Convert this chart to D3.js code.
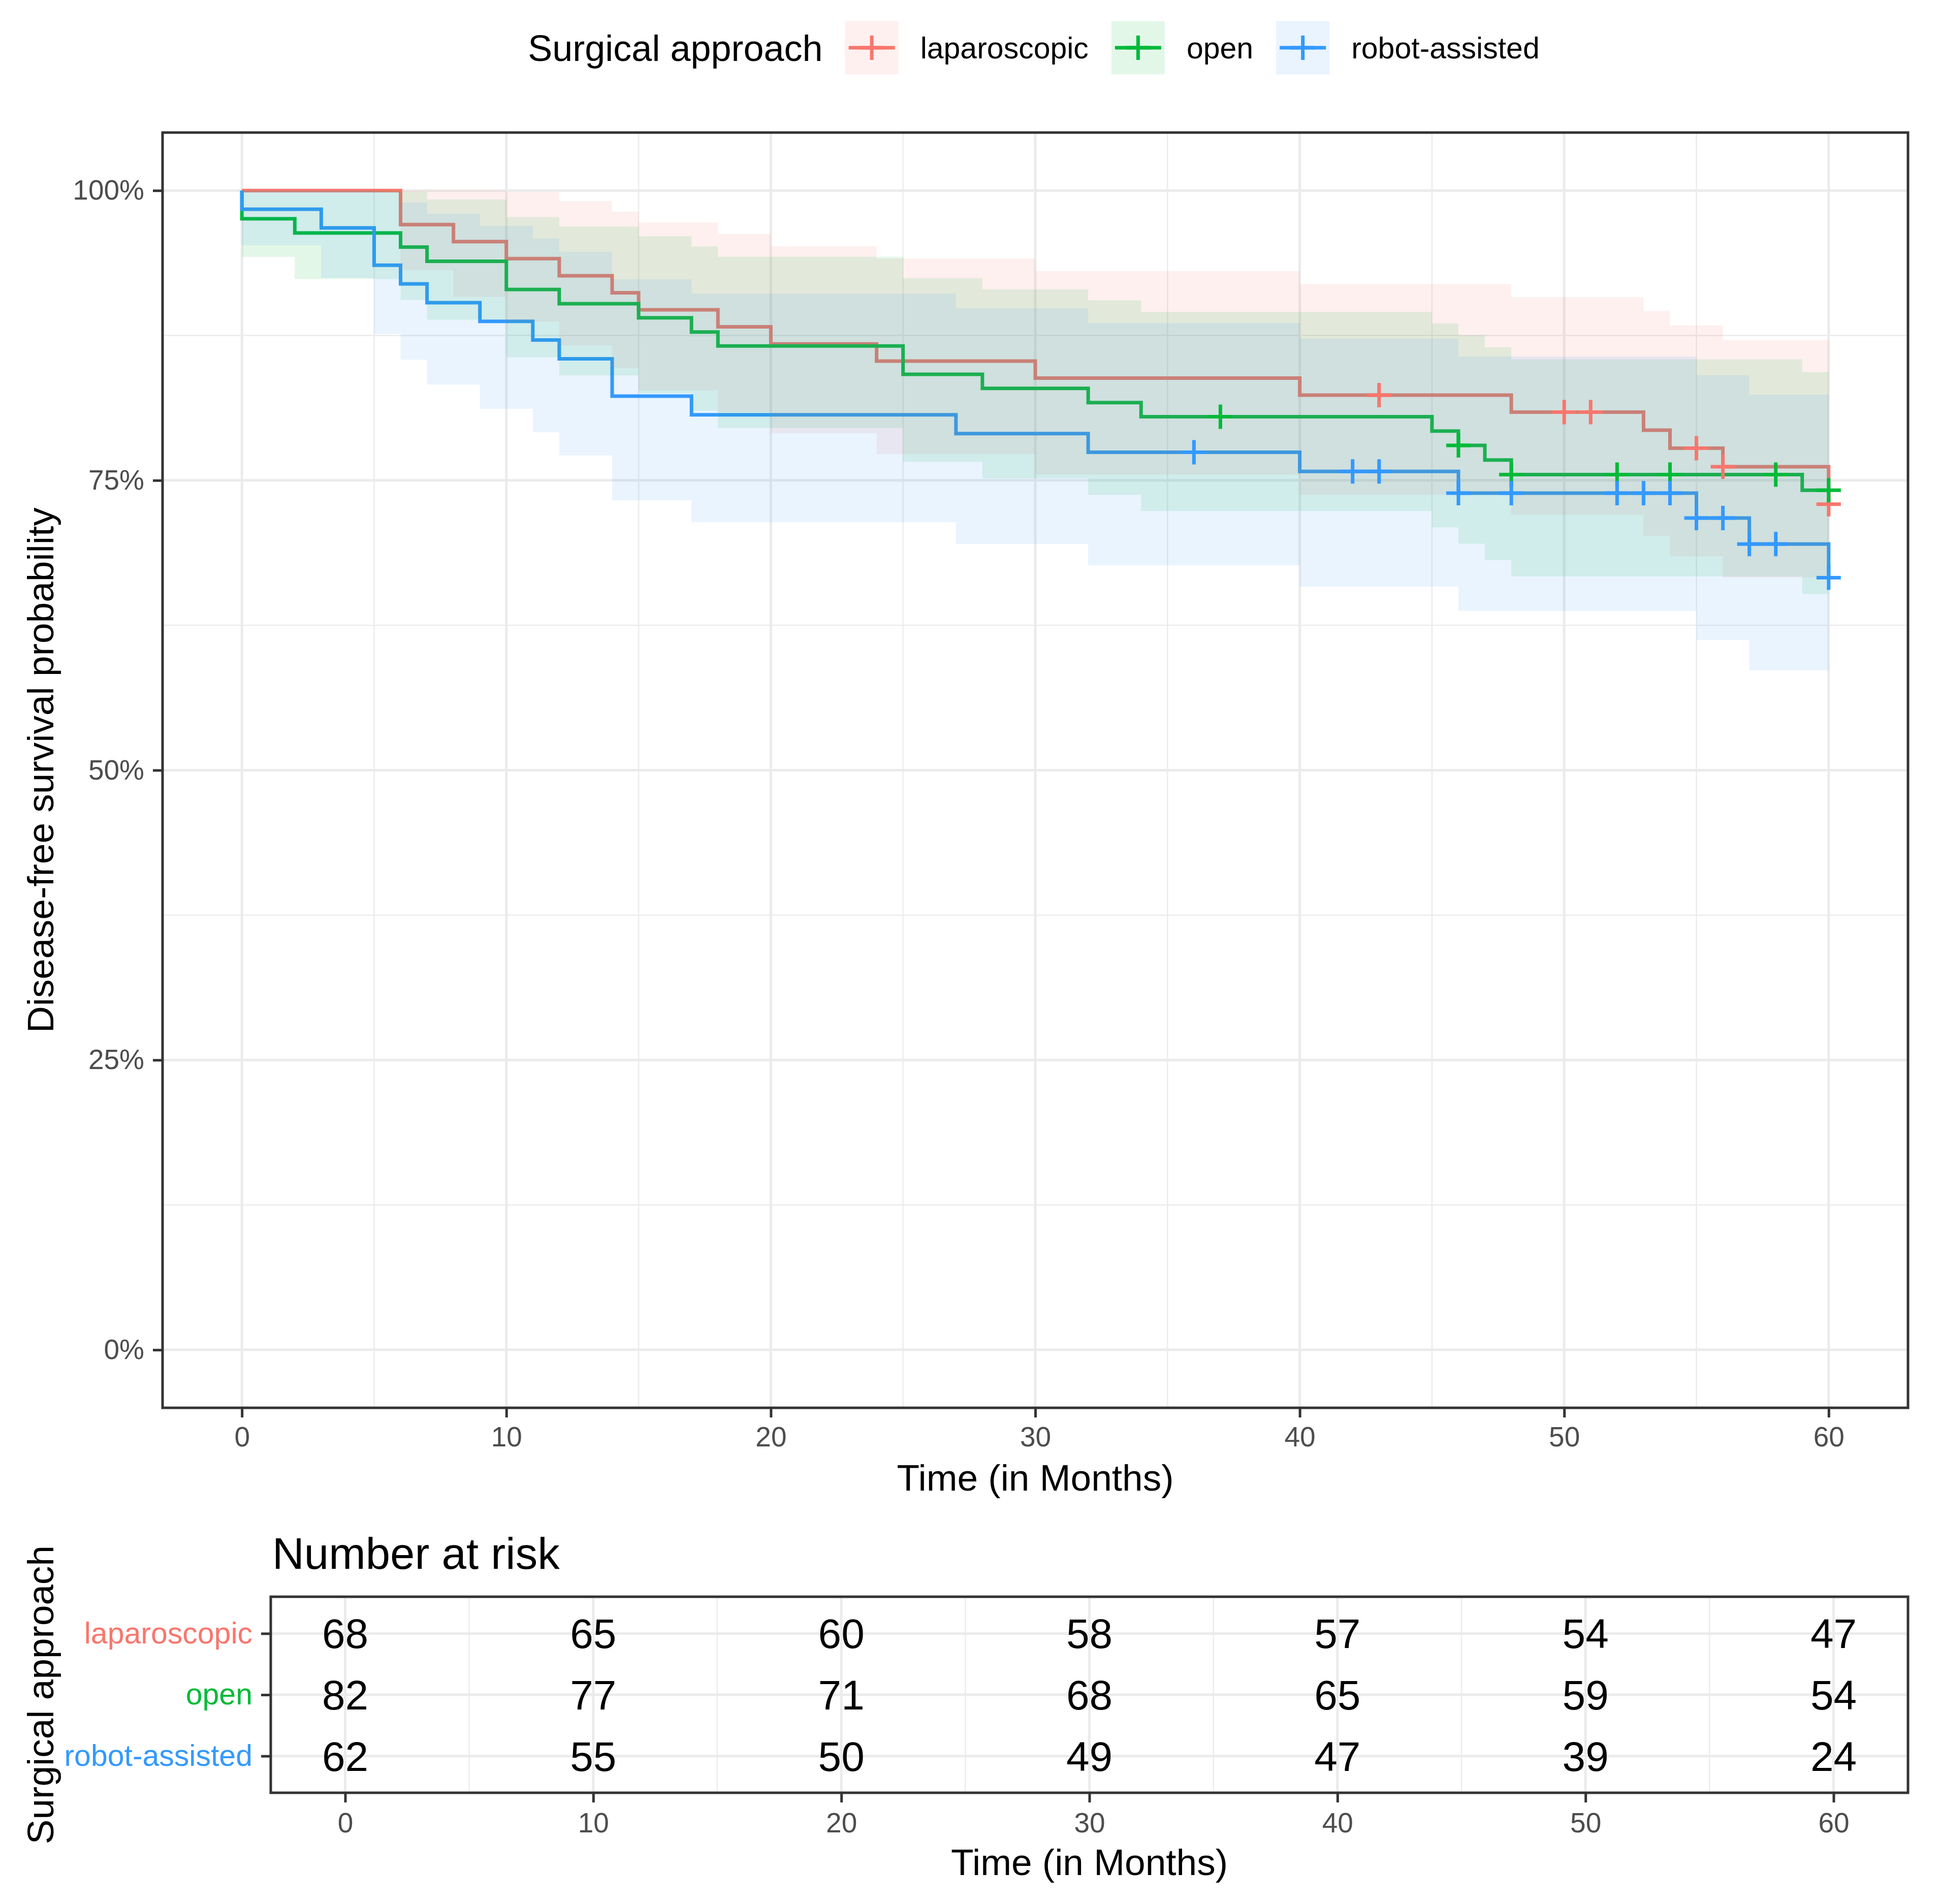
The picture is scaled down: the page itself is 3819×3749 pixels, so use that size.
<!DOCTYPE html>
<html>
<head>
<meta charset="utf-8">
<script src="https://cdn.jsdelivr.net/npm/d3@7"></script>
<style>
  body { margin: 0; background: #fff; }
  text { font-family: "Liberation Sans", Arial, sans-serif; }
</style>
</head>
<body>
<div id="container"></div>
<script>
/* CONSTANTS AND GLOBALS */
const width = 3819;
const height = 3749;

/* DATA */
const groups = ["laparoscopic", "open", "robot-assisted"];
const colors = ["#F8766D", "#00BA38", "#3399FF"];
const followUpEnd = 60;

// laparoscopic: step times, survival, 95% band
const lapTime  = [0, 6, 8, 10, 12, 14, 15, 18, 20, 24, 30, 40, 48, 53, 54, 56, 60];
const lapSurv  = [1, .9706, .9559, .9412, .9265, .9118, .8971, .8824, .8676, .8529, .8382, .8235, .8088, .7933, .7777, .7618, .7294];
const lapLower = [1, .9313, .9083, .8869, .8665, .8468, .8277, .8090, .7907, .7727, .7551, .7377, .7204, .7023, .6844, .6662, .6297];
const lapUpper = [1, 1, 1, .9988, .9907, .9818, .9723, .9624, .9520, .9414, .9305, .9193, .9081, .8961, .8838, .8711, .8449];
const lapCensor = [43, 50, 51, 55, 56, 60];

// open
const openTime  = [0, 0, 2, 6, 7, 10, 12, 15, 17, 18, 25, 28, 32, 34, 45, 46, 47, 48, 59];
const openSurv  = [1, .9756, .9634, .9512, .9390, .9146, .9024, .8902, .8780, .8659, .8415, .8293, .8171, .8049, .7925, .7801, .7675, .7550, .7415];
const openLower = [1, .9428, .9236, .9057, .8886, .8561, .8405, .8251, .8100, .7951, .7660, .7517, .7375, .7235, .7094, .6954, .6812, .6671, .6520];
const openUpper = [1, 1, 1, .9990, .9923, .9772, .9690, .9605, .9518, .9429, .9244, .9148, .9052, .8954, .8854, .8752, .8649, .8544, .8433];
const openCensor = [37, 46, 48, 52, 54, 58, 60];

// robot-assisted
const robotTime  = [0, 0, 3, 5, 6, 7, 9, 11, 12, 14, 17, 27, 32, 40, 46, 55, 57, 60];
const robotSurv  = [1, .9839, .9677, .9355, .9194, .9032, .8871, .8710, .8548, .8226, .8065, .7903, .7742, .7577, .7390, .7175, .6950, .6660];
const robotLower = [1, .9530, .9247, .8763, .8540, .8326, .8117, .7914, .7715, .7328, .7139, .6952, .6768, .6582, .6374, .6124, .5862, .5510];
const robotUpper = [1, 1, 1, .9987, .9897, .9799, .9695, .9586, .9472, .9234, .9110, .8984, .8856, .8724, .8568, .8407, .8240, .8050];
const robotCensor = [36, 42, 43, 46, 48, 52, 53, 54, 55, 56, 57, 58, 60];

// number at risk
const riskTimes = [0, 10, 20, 30, 40, 50, 60];
const lapRisk   = [68, 65, 60, 58, 57, 54, 47];
const openRisk  = [82, 77, 71, 68, 65, 59, 54];
const robotRisk = [62, 55, 50, 49, 47, 39, 24];

const xTicks = [0, 10, 20, 30, 40, 50, 60];
const xMinor = [5, 15, 25, 35, 45, 55];
const yTicks = [0, 0.25, 0.5, 0.75, 1];
const yMinor = [0.125, 0.375, 0.625, 0.875];

/* BUILD SERIES */
function makeSeries(time, surv, lower, upper, censor) {
  const pts = time.map((t, i) => ({ t: t, s: surv[i], lo: lower[i], up: upper[i] }));
  const last = pts[pts.length - 1];
  if (last.t < followUpEnd) pts.push({ t: followUpEnd, s: last.s, lo: last.lo, up: last.up });
  const marks = censor.map(c => {
    const i = d3.bisectRight(time, c) - 1;
    return { t: c, s: surv[i] };
  });
  return { pts, marks };
}
const series = [
  makeSeries(lapTime, lapSurv, lapLower, lapUpper, lapCensor),
  makeSeries(openTime, openSurv, openLower, openUpper, openCensor),
  makeSeries(robotTime, robotSurv, robotLower, robotUpper, robotCensor)
];
const risks = [lapRisk, openRisk, robotRisk];

/* SVG */
const svg = d3.select("#container")
  .append("svg")
  .attr("width", width)
  .attr("height", height)
  .style("display", "block");

svg.append("rect").attr("width", width).attr("height", height).attr("fill", "#fff");

// main panel
const P = { left: 320, right: 3756, top: 261, bottom: 2772 };
const x = d3.scaleLinear().domain([-3, 63]).range([P.left, P.right]);
const y = d3.scaleLinear().domain([-0.05, 1.05]).range([P.bottom, P.top]);

const grid = svg.append("g");
grid.selectAll(".ym").data(yMinor).enter().append("line")
  .attr("x1", P.left).attr("x2", P.right)
  .attr("y1", d => y(d)).attr("y2", d => y(d))
  .attr("stroke", "#EBEBEB").attr("stroke-width", 2.4);
grid.selectAll(".xm").data(xMinor).enter().append("line")
  .attr("y1", P.top).attr("y2", P.bottom)
  .attr("x1", d => x(d)).attr("x2", d => x(d))
  .attr("stroke", "#EBEBEB").attr("stroke-width", 2.4);
grid.selectAll(".yM").data(yTicks).enter().append("line")
  .attr("x1", P.left).attr("x2", P.right)
  .attr("y1", d => y(d)).attr("y2", d => y(d))
  .attr("stroke", "#EBEBEB").attr("stroke-width", 5);
grid.selectAll(".xM").data(xTicks).enter().append("line")
  .attr("y1", P.top).attr("y2", P.bottom)
  .attr("x1", d => x(d)).attr("x2", d => x(d))
  .attr("stroke", "#EBEBEB").attr("stroke-width", 5);

const stepLine = d3.line().curve(d3.curveStepAfter)
  .x(d => x(d.t)).y(d => y(d.s));
const stepArea = d3.area().curve(d3.curveStepAfter)
  .x(d => x(d.t)).y0(d => y(d.lo)).y1(d => y(d.up));

// curves
svg.append("g").selectAll("path")
  .data(series).enter().append("path")
  .attr("d", d => stepLine(d.pts))
  .attr("fill", "none")
  .attr("stroke", (d, i) => colors[i])
  .attr("stroke-width", 7);

// confidence bands
svg.append("g").selectAll("path")
  .data(series).enter().append("path")
  .attr("d", d => stepArea(d.pts))
  .attr("fill", (d, i) => colors[i])
  .attr("fill-opacity", 0.11);

// censor marks
const plus = "M-24,0H24M0,-24V24";
series.forEach((s, i) => {
  svg.append("g").selectAll("path")
    .data(s.marks).enter().append("path")
    .attr("d", plus)
    .attr("transform", d => `translate(${x(d.t)},${y(d.s)})`)
    .attr("fill", "none")
    .attr("stroke", colors[i])
    .attr("stroke-width", 7);
});

svg.append("rect")
  .attr("x", P.left).attr("y", P.top)
  .attr("width", P.right - P.left).attr("height", P.bottom - P.top)
  .attr("fill", "none").attr("stroke", "#333333").attr("stroke-width", 5);

function styleAxis(g, size, color) {
  g.select(".domain").remove();
  g.selectAll(".tick line").attr("stroke", "#333333").attr("stroke-width", 5);
  g.selectAll(".tick text")
    .attr("font-size", size)
    .attr("font-family", '"Liberation Sans", Arial, sans-serif')
    .attr("fill", color || "#4D4D4D");
}

svg.append("g")
  .attr("transform", `translate(0,${P.bottom})`)
  .call(d3.axisBottom(x).tickValues(xTicks).tickSize(19).tickPadding(18))
  .call(g => styleAxis(g, 55));

svg.append("g")
  .attr("transform", `translate(${P.left},0)`)
  .call(d3.axisLeft(y).tickValues(yTicks).tickFormat(d3.format(".0%")).tickSize(19).tickPadding(17))
  .call(g => styleAxis(g, 55));

svg.append("text")
  .attr("x", (P.left + P.right) / 2).attr("y", 2935)
  .attr("text-anchor", "middle").attr("font-size", 73)
  .text("Time (in Months)");

svg.append("text")
  .attr("transform", `translate(105,${(P.top + P.bottom) / 2}) rotate(-90)`)
  .attr("text-anchor", "middle").attr("font-size", 73)
  .text("Disease-free survival probability");

/* LEGEND */
const legend = svg.append("g");
const legY = 94;
let cursor = 0;
const title = legend.append("text")
  .attr("x", cursor).attr("y", legY + 26)
  .attr("font-size", 72).text("Surgical approach");
cursor += title.node().getComputedTextLength() + 44;
groups.forEach((name, i) => {
  const k = legend.append("g").attr("transform", `translate(${cursor},${legY - 52.5})`);
  k.append("rect").attr("width", 105).attr("height", 105)
    .attr("fill", colors[i]).attr("fill-opacity", 0.11);
  k.append("line").attr("x1", 7).attr("x2", 98).attr("y1", 52.5).attr("y2", 52.5)
    .attr("stroke", colors[i]).attr("stroke-width", 7);
  k.append("path").attr("d", plus).attr("transform", "translate(52.5,52.5)")
    .attr("stroke", colors[i]).attr("stroke-width", 7);
  cursor += 105 + 43;
  const t = legend.append("text")
    .attr("x", cursor).attr("y", legY + 21)
    .attr("font-size", 59).text(name);
  cursor += t.node().getComputedTextLength() + (i < groups.length - 1 ? 45 : 0);
});
legend.attr("transform", `translate(${2035 - cursor / 2},0)`);

/* RISK TABLE */
const T = { left: 533, right: 3756, top: 3144, bottom: 3530 };
const xr = d3.scaleLinear().domain([-3, 63]).range([T.left, T.right]);
const yr = d3.scalePoint().domain(groups).range([T.top, T.bottom]).padding(0.6);

const tgrid = svg.append("g");
tgrid.selectAll(".xm").data(xMinor).enter().append("line")
  .attr("y1", T.top).attr("y2", T.bottom)
  .attr("x1", d => xr(d)).attr("x2", d => xr(d))
  .attr("stroke", "#EBEBEB").attr("stroke-width", 2.4);
tgrid.selectAll(".xM").data(xTicks).enter().append("line")
  .attr("y1", T.top).attr("y2", T.bottom)
  .attr("x1", d => xr(d)).attr("x2", d => xr(d))
  .attr("stroke", "#EBEBEB").attr("stroke-width", 5);
tgrid.selectAll(".yM").data(groups).enter().append("line")
  .attr("x1", T.left).attr("x2", T.right)
  .attr("y1", d => yr(d)).attr("y2", d => yr(d))
  .attr("stroke", "#EBEBEB").attr("stroke-width", 5);

groups.forEach((g, i) => {
  svg.append("g").selectAll("text")
    .data(riskTimes).enter().append("text")
    .attr("x", d => xr(d))
    .attr("y", yr(g) + 29)
    .attr("text-anchor", "middle")
    .attr("font-size", 82)
    .attr("fill", "#000")
    .text((d, j) => risks[i][j]);
});

svg.append("rect")
  .attr("x", T.left).attr("y", T.top)
  .attr("width", T.right - T.left).attr("height", T.bottom - T.top)
  .attr("fill", "none").attr("stroke", "#333333").attr("stroke-width", 5);

svg.append("g")
  .attr("transform", `translate(0,${T.bottom})`)
  .call(d3.axisBottom(xr).tickValues(xTicks).tickSize(19).tickPadding(20))
  .call(g => styleAxis(g, 55));

svg.append("g")
  .attr("transform", `translate(${T.left},0)`)
  .call(d3.axisLeft(yr).tickSize(19).tickPadding(17))
  .call(g => styleAxis(g, 59))
  .call(g => g.selectAll(".tick text").attr("fill", d => colors[groups.indexOf(d)]));

svg.append("text")
  .attr("x", 536).attr("y", 3089)
  .attr("font-size", 87).text("Number at risk");

svg.append("text")
  .attr("x", (T.left + T.right) / 2).attr("y", 3692)
  .attr("text-anchor", "middle").attr("font-size", 73)
  .text("Time (in Months)");

svg.append("text")
  .attr("transform", `translate(105,${(T.top + T.bottom) / 2}) rotate(-90)`)
  .attr("text-anchor", "middle").attr("font-size", 73)
  .text("Surgical approach");
</script>
</body>
</html>
